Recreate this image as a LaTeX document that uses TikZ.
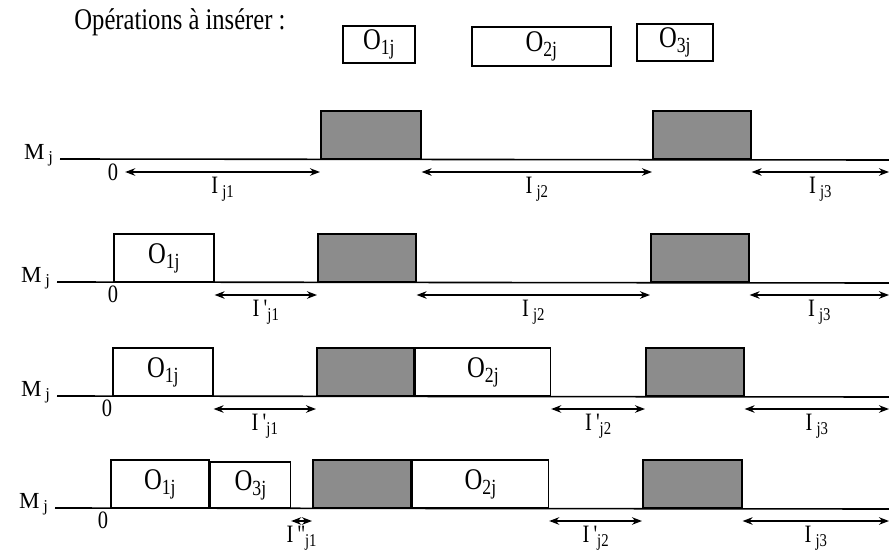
\documentclass[tikz,border=0pt]{standalone}
\usepackage{fontspec}
\setmainfont{Liberation Serif}
\newfontfamily\scanfont[FakeStretch=0.82]{Liberation Serif}
\usetikzlibrary{arrows.meta,positioning,calc}

\newcommand\lo[1]{\raisebox{-0.35ex}{\scalebox{0.72}{#1}}}

\tikzset{
  txt/.style={font=\scanfont\fontsize{12.5}{14}\selectfont},
  big/.style={font=\scanfont\fontsize{15}{17}\selectfont},
  mach/.style={font=\fontsize{11.5}{13}\selectfont, anchor=base east},
  opbox/.style={draw, thick, fill=white, inner sep=0pt, anchor=south west, big},
  busy/.style={draw, thick, fill=black!45, inner sep=0pt, anchor=south west, minimum height=24pt},
  gap/.style={{Stealth[length=5pt]}-{Stealth[length=5pt]}, thick},
  glabel/.style={below, txt, inner sep=2pt},
  axis/.style={thick},
}

\begin{document}
\begin{tikzpicture}[x=0.5pt,y=-0.5pt]
  \useasboundingbox (0,0) rectangle (889,557);

  % operations to insert
  \node[big] (title) at (180,22) {Opérations à insérer :};
  \node[opbox, minimum width=36pt, minimum height=18.5pt] (ins1) at (342,64) {O\lo{1j}};
  \node[opbox, minimum width=69.5pt, minimum height=19.5pt] (ins2) at (471,67) {O\lo{2j}};
  \node[opbox, minimum width=38pt, minimum height=18.5pt] (ins3) at (636,62) {O\lo{3j}};

  % row 1 : initial machine
  \node[mach] (m1) at (60,159) {M\,\lo{j}};
  \coordinate (e1) at (889,160);
  \draw[axis] (m1.base east) -- (e1);
  \node[busy, minimum width=50pt] (r1b1) at (320,160) {};
  \node[busy, minimum width=49pt] (r1b2) at (652,160) {};
  \node[txt] (z1) at (113,172) {0};
  \draw[gap] (z1) -- node[glabel]{I\,\lo{j1}} ([yshift=-6pt]r1b1.south west);
  \draw[gap] ([yshift=-6pt]r1b1.south east) -- node[glabel]{I\,\lo{j2}} ([yshift=-6pt]r1b2.south west);
  \draw[gap] ([yshift=-6pt]r1b2.south east) -- node[glabel]{I\,\lo{j3}} ([yshift=-6pt]e1);

  % row 2 : O1j inserted
  \node[mach] (m2) at (57,282) {M\,\lo{j}};
  \coordinate (e2) at (889,283);
  \draw[axis] (m2.base east) -- (e2);
  \node[opbox, minimum width=50pt, minimum height=24pt] (r2o1) at (113,283) {O\lo{1j}};
  \node[busy, minimum width=49pt] (r2b1) at (317,283) {};
  \node[busy, minimum width=49pt] (r2b2) at (650,283) {};
  \node[txt] (z2) at (113,294) {0};
  \draw[gap] ([yshift=-6pt]r2o1.south east) -- node[glabel]{I\,'\lo{j1}} ([yshift=-6pt]r2b1.south west);
  \draw[gap] ([yshift=-6pt]r2b1.south east) -- node[glabel]{I\,\lo{j2}} ([yshift=-6pt]r2b2.south west);
  \draw[gap] ([yshift=-6pt]r2b2.south east) -- node[glabel]{I\,\lo{j3}} ([yshift=-6pt]e2);

  % row 3 : O2j inserted
  \node[mach] (m3) at (57,396) {M\,\lo{j}};
  \coordinate (e3) at (889,397);
  \draw[axis] (m3.base east) -- (e3);
  \node[opbox, minimum width=50pt, minimum height=24pt] (r3o1) at (112,397) {O\lo{1j}};
  \node[busy, minimum width=48.5pt] (r3b1) at (316,397) {};
  \node[opbox, minimum width=67.5pt, minimum height=24pt] (r3o2) at (r3b1.south east) {O\lo{2j}};
  \node[busy, minimum width=49pt] (r3b2) at (645,397) {};
  \node[txt] (z3) at (107,408) {0};
  \draw[gap] ([yshift=-6pt]r3o1.south east) -- node[glabel]{I\,'\lo{j1}} ([yshift=-6pt]r3b1.south west);
  \draw[gap] ([yshift=-6pt]r3o2.south east) -- node[glabel]{I\,'\lo{j2}} ([yshift=-6pt]r3b2.south west);
  \draw[gap] ([yshift=-6pt]r3b2.south east) -- node[glabel]{I\,\lo{j3}} ([yshift=-6pt]e3);

  % row 4 : O3j inserted
  \node[mach] (m4) at (55,508) {M\,\lo{j}};
  \coordinate (e4) at (889,509);
  \draw[axis] (m4.base east) -- (e4);
  \node[opbox, minimum width=49pt, minimum height=24pt] (r4o1) at (110,509) {O\lo{1j}};
  \node[opbox, minimum width=40pt, minimum height=23pt] (r4o3) at (r4o1.south east) {O\lo{3j}};
  \node[busy, minimum width=49pt] (r4b1) at (312,509) {};
  \node[opbox, minimum width=68pt, minimum height=24pt] (r4o2) at (r4b1.south east) {O\lo{2j}};
  \node[busy, minimum width=49.5pt] (r4b2) at (642,509) {};
  \node[txt] (z4) at (103,520) {0};
  \draw[gap] ([yshift=-6pt]r4o3.south east) -- node[glabel]{I\,''\lo{j1}} ([yshift=-6pt]r4b1.south west);
  \draw[gap] ([yshift=-6pt]r4o2.south east) -- node[glabel]{I\,'\lo{j2}} ([yshift=-6pt]r4b2.south west);
  \draw[gap] ([yshift=-6pt]r4b2.south east) -- node[glabel]{I\,\lo{j3}} ([yshift=-6pt]e4);
\end{tikzpicture}
\end{document}
